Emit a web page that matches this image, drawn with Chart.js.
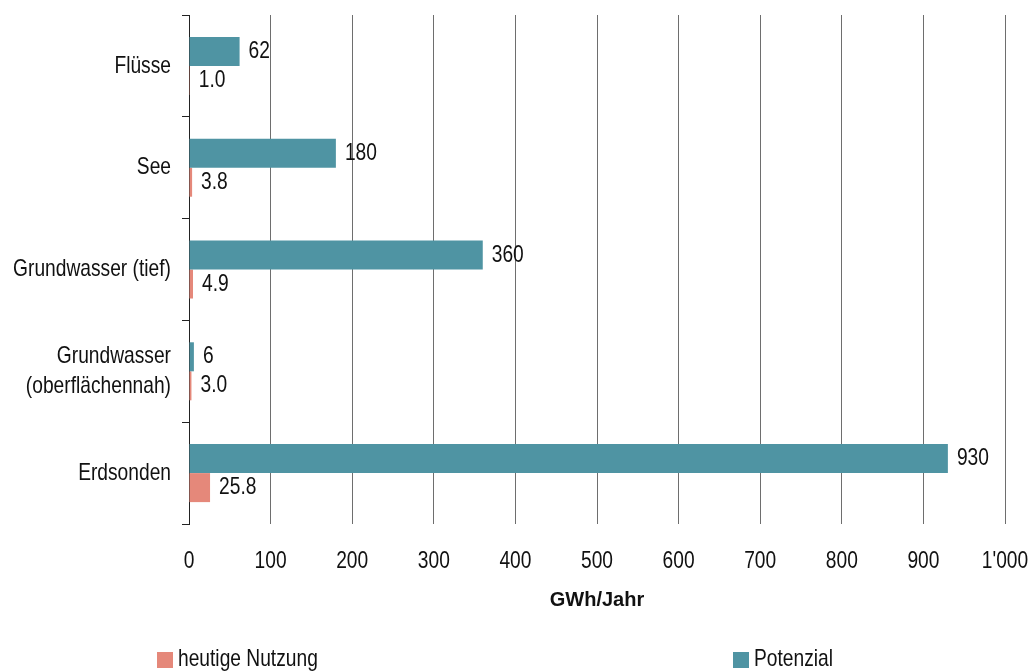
<!DOCTYPE html>
<html>
<head>
<meta charset="utf-8">
<script src="https://cdn.jsdelivr.net/npm/chart.js@4/dist/chart.umd.min.js"></script>
<style>
html,body{margin:0;padding:0;background:#fff;}
#wrap{position:relative;width:1033px;height:671px;}
</style>
</head>
<body>
<div id="wrap"><canvas id="c"></canvas></div>
<script>
const categories = ['Flüsse', 'See', 'Grundwasser (tief)', ['Grundwasser', '(oberflächennah)'], 'Erdsonden'];
const potenzial = [62, 180, 360, 6, 930];
const nutzung = [1.0, 3.8, 4.9, 3.0, 25.8];
const potenzialLabels = ['62', '180', '360', '6', '930'];
const nutzungLabels = ['1.0', '3.8', '4.9', '3.0', '25.8'];
const xTickLabels = ['0', '100', '200', '300', '400', '500', '600', '700', '800', '900', "1'000"];
const seriesNames = ['Potenzial', 'heutige Nutzung'];
const axisTitle = 'GWh/Jahr';

const FAMILY = "'Liberation Sans', Arial, sans-serif";
const FS = 24;
const TEAL = '#4F94A3';
const SALMON = '#E5887A';
Chart.defaults.font.family = FAMILY;
Chart.defaults.color = '#111';

// Narrow (Arial-Narrow-like) rendering of regular text: horizontal condensing of Liberation Sans
const canvas = document.getElementById('c');
const c2d = canvas.getContext('2d');
const SX = 0.8;
const origFill = c2d.fillText;
const origMeasure = c2d.measureText;
c2d.fillText = function (t, x, y, mw) {
  if (/bold/.test(this.font)) {
    return mw === undefined ? origFill.call(this, t, x, y) : origFill.call(this, t, x, y, mw);
  }
  this.save();
  this.translate(x, y);
  this.scale(SX, 1);
  if (mw === undefined) origFill.call(this, t, 0, 0);
  else origFill.call(this, t, 0, 0, mw / SX);
  this.restore();
};
c2d.measureText = function (t) {
  const m = origMeasure.call(this, t);
  if (/bold/.test(this.font)) return m;
  return {
    width: m.width * SX,
    actualBoundingBoxAscent: m.actualBoundingBoxAscent,
    actualBoundingBoxDescent: m.actualBoundingBoxDescent,
    actualBoundingBoxLeft: m.actualBoundingBoxLeft * SX,
    actualBoundingBoxRight: m.actualBoundingBoxRight * SX
  };
};

const valueLabelPlugin = {
  id: 'valueLabels',
  afterDatasetsDraw(chart) {
    const ctx = chart.ctx;
    const texts = [potenzialLabels, nutzungLabels];
    ctx.save();
    ctx.font = FS + "px " + FAMILY;
    ctx.fillStyle = '#111';
    ctx.textAlign = 'left';
    ctx.textBaseline = 'middle';
    chart.data.datasets.forEach((ds, i) => {
      const meta = chart.getDatasetMeta(i);
      meta.data.forEach((bar, j) => {
        ctx.fillText(texts[i][j], bar.x + 9, bar.y);
      });
    });
    ctx.restore();
  }
};

const legendPlugin = {
  id: 'spreadLegend',
  afterDraw(chart) {
    const ctx = chart.ctx;
    const items = [
      {ds: 1, x: 157},
      {ds: 0, x: 733}
    ];
    ctx.save();
    ctx.font = FS + "px " + FAMILY;
    ctx.textAlign = 'left';
    ctx.textBaseline = 'alphabetic';
    items.forEach(it => {
      const ds = chart.data.datasets[it.ds];
      ctx.fillStyle = ds.backgroundColor;
      ctx.fillRect(it.x, 652, 16, 16);
      ctx.fillStyle = '#111';
      ctx.fillText(ds.label, it.x + 21, 666);
    });
    ctx.restore();
  }
};

new Chart(canvas, {
  type: 'bar',
  data: {
    labels: categories,
    datasets: [
      {label: seriesNames[0], data: potenzial, backgroundColor: TEAL, borderWidth: 0},
      {label: seriesNames[1], data: nutzung, backgroundColor: SALMON, borderWidth: 0}
    ]
  },
  options: {
    indexAxis: 'y',
    responsive: true,
    maintainAspectRatio: false,
    animation: false,
    categoryPercentage: 0.57,
    barPercentage: 1.0,
    layout: {padding: {left: 0, top: 15, right: 28, bottom: 59}},
    plugins: {
      legend: {display: false},
      tooltip: {enabled: false}
    },
    scales: {
      x: {
        min: 0, max: 1000,
        ticks: {
          stepSize: 100,
          autoSkip: false,
          maxRotation: 0,
          padding: 23,
          color: '#111',
          font: {size: FS, lineHeight: 1.2},
          callback: (v, i) => xTickLabels[i]
        },
        grid: {color: '#6e6e6e', lineWidth: 1, drawTicks: false},
        border: {display: false},
        title: {
          display: true,
          text: axisTitle,
          color: '#111',
          padding: 0,
          font: {size: 20, weight: 'bold'}
        },
        afterFit(scale) {
          scale.height = 88;
          scale.paddingLeft = 0;
          scale.paddingRight = 0;
        }
      },
      y: {
        ticks: {
          padding: 11,
          color: '#111',
          font: {size: FS, lineHeight: 1.25}
        },
        grid: {drawOnChartArea: false, drawTicks: true, tickLength: 7, color: '#222', offset: true},
        border: {display: true, color: '#222', width: 1},
        afterFit(scale) {
          scale.width = 189;
          scale.paddingTop = 0;
          scale.paddingBottom = 0;
        }
      }
    }
  },
  plugins: [valueLabelPlugin, legendPlugin]
});
</script>
</body>
</html>
